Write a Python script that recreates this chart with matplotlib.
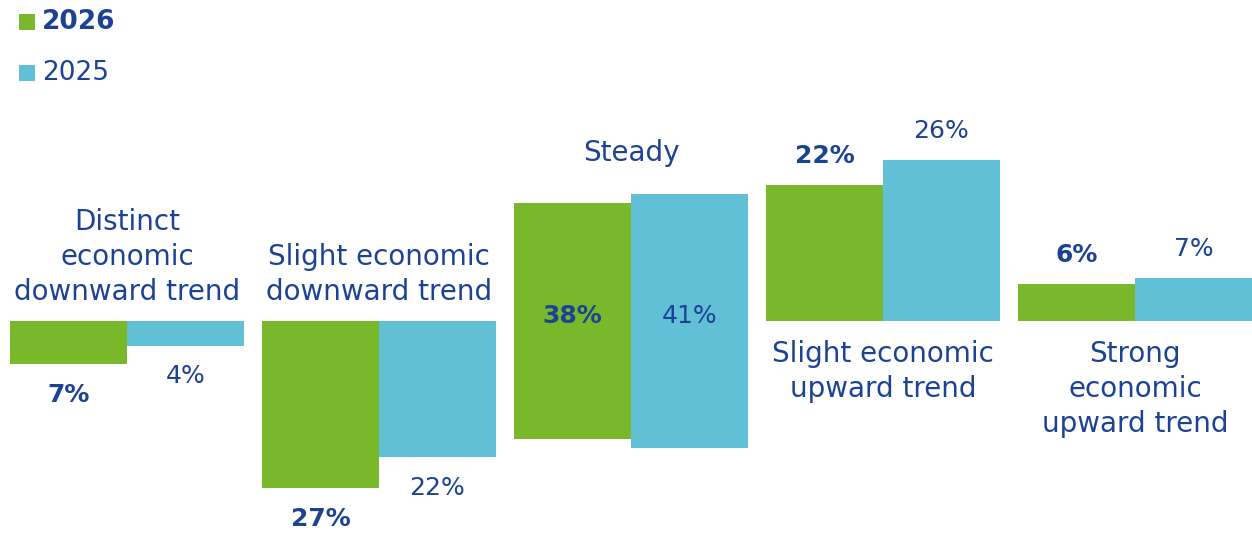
import matplotlib
matplotlib.use('Agg')
import matplotlib.pyplot as plt
from matplotlib.patches import Rectangle

categories = ['Distinct\neconomic\ndownward trend', 'Slight economic\ndownward trend', 'Steady',
              'Slight economic\nupward trend', 'Strong\neconomic\nupward trend']
direction = [-1, -1, 0, 1, 1]   # below baseline, centred, above baseline
v2026 = [7, 27, 38, 22, 6]
v2025 = [4, 22, 41, 26, 7]
series = ['2026', '2025']

green = '#78b82a'
blue = '#62c0d6'
txt = '#1c4393'

W, H = 1252, 535
fig = plt.figure(figsize=(W / 100, H / 100), dpi=100)
ax = fig.add_axes([0, 0, 1, 1])
plt.rcParams['font.family'] = ['DejaVu Sans']

bw = 0.464
fs = 18      # value labels
cfs = 20     # category labels

for i, (cat, d) in enumerate(zip(categories, direction)):
    for j, (vals, col) in enumerate([(v2026, green), (v2025, blue)]):
        v = vals[i]
        x = i - bw if j == 0 else i
        if d < 0:
            bottom, h = 0, -v
        elif d > 0:
            bottom, h = 0, v
        else:
            bottom, h = -v / 2, v
        ax.bar(x, h, width=bw, bottom=bottom, align='edge', color=col, linewidth=0)

        cx = x + bw / 2
        weight = 'bold' if j == 0 else 'normal'
        if d < 0:
            ly = -v - 4.9
        elif d > 0:
            ly = v + 4.6
        else:
            ly = 0.8
        ax.text(cx, ly, '%d%%' % v, ha='center', va='center', fontsize=fs,
                fontweight=weight, color=txt)

    if d < 0:
        ax.text(i, 2.4, cat, ha='center', va='bottom', fontsize=cfs, color=txt,
                linespacing=1.32)
    elif d > 0:
        ax.text(i, -3.0, cat, ha='center', va='top', fontsize=cfs, color=txt,
                linespacing=1.32)
    else:
        ax.text(i, 27.1, cat, ha='center', va='center', fontsize=cfs, color=txt)

ax.set_xlim((0 - 127) / 252, (W - 127) / 252)
ax.set_ylim(-(H - 321) / 6.2, 321 / 6.2)
ax.axis('off')

# legend
for k, (name, col) in enumerate(zip(series, [green, blue])):
    top = 14 + 51 * k
    fig.patches.append(Rectangle((19 / W, 1 - (top + 16) / H), 16 / W, 16 / H,
                                 transform=fig.transFigure, color=col, linewidth=0))
    fig.text(42 / W, 1 - (top + 8) / H, name, ha='left', va='center', fontsize=19,
             fontweight='bold' if k == 0 else 'normal', color=txt)

plt.savefig('out.png')
